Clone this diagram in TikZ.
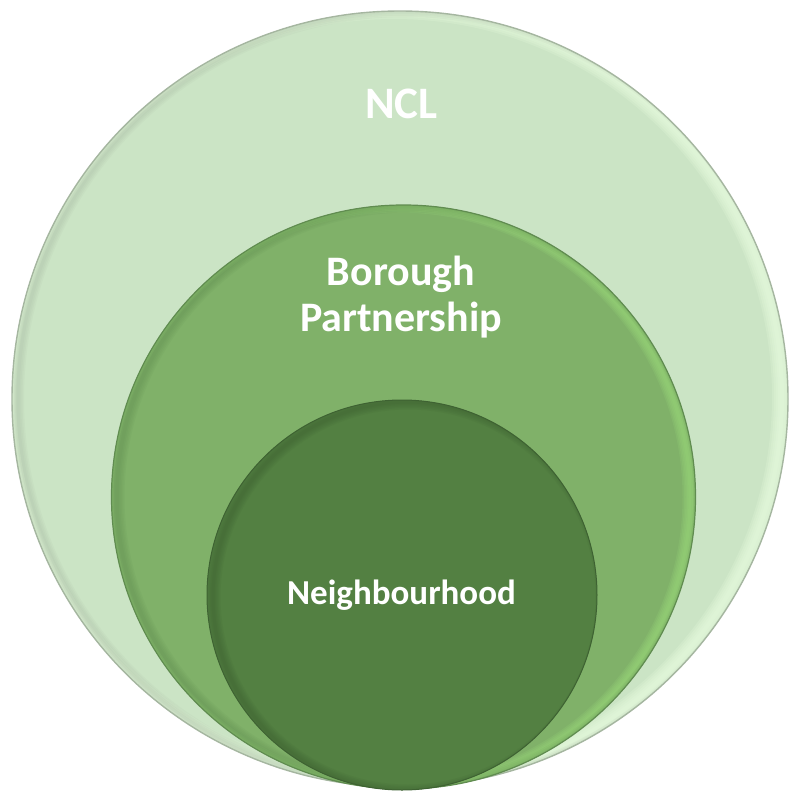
\documentclass[tikz,border=0pt]{standalone}
\usepackage{fontspec}
\setmainfont{Carlito}
\begin{document}
\begin{tikzpicture}[x=1pt,y=-1pt,
  ring/.style={circle, inner sep=0pt, outer sep=0pt},
  lbl/.style={text=white, align=center, inner sep=0pt}]
\definecolor{nclfill}{RGB}{203,228,197}
\definecolor{nclline}{RGB}{165,182,160}
\definecolor{borofill}{RGB}{128,177,105}
\definecolor{boroline}{RGB}{96,140,80}
\definecolor{nbhfill}{RGB}{83,128,66}
\definecolor{nbhline}{RGB}{62,98,50}
\definecolor{rimlight}{RGB}{232,252,224}
\definecolor{rimgreen}{RGB}{152,214,120}
\useasboundingbox (0,0) rectangle (790,793);
\fill[white] (0,0) rectangle (790,793);

% outer ring: NCL
\node[ring, minimum size=776pt, fill=nclfill] (ncl) at (400,399) {};
\begin{scope}
  \clip (400,399) circle[radius=388];
  \foreach \w in {4,8,12,16,20}
    \draw[rimlight, line width=\w pt, opacity=0.22] (394,397) circle[radius=388];
  \foreach \w in {3,6,9,12}
    \draw[nclline, line width=\w pt, opacity=0.1] (406,399) circle[radius=388];
\end{scope}
\draw[nclline, line width=1.4pt] (ncl.center) circle[radius=388];

% middle ring: borough partnership
\node[ring, minimum size=584pt, fill=borofill] (boro) at (403.5,497) {};
\begin{scope}
  \clip (403.5,497) circle[radius=292];
  \foreach \w in {3,6,9,12,15}
    \draw[rimgreen, line width=\w pt, opacity=0.2] (398,497) circle[radius=292];
  \foreach \w in {3,6,9,12,15}
    \draw[boroline, line width=\w pt, opacity=0.1] (409,497) circle[radius=292];
\end{scope}
\draw[boroline, line width=1.2pt] (boro.center) circle[radius=292];

% inner ring: neighbourhood
\node[ring, minimum size=390pt, fill=nbhfill] (nbh) at (402,595) {};
\begin{scope}
  \clip (402,595) circle[radius=195];
  \foreach \w in {3,6,9,12,15}
    \draw[nbhline, line width=\w pt, opacity=0.13] (408,597) circle[radius=195];
\end{scope}
\draw[nbhline, line width=1pt] (nbh.center) circle[radius=195];

% labels
\node[lbl, font=\bfseries\fontsize{45}{50}\selectfont, anchor=base] (tncl) at (401.5,118) {NCL};
\node[lbl, font=\bfseries\fontsize{42}{46}\selectfont, anchor=base] (tboro) at (401,331) {Borough\\Partnership};
\node[lbl, font=\bfseries\fontsize{35}{40}\selectfont, anchor=base] (tnbh) at (401.5,604.5) {Neighbourhood};
\end{tikzpicture}
\end{document}
